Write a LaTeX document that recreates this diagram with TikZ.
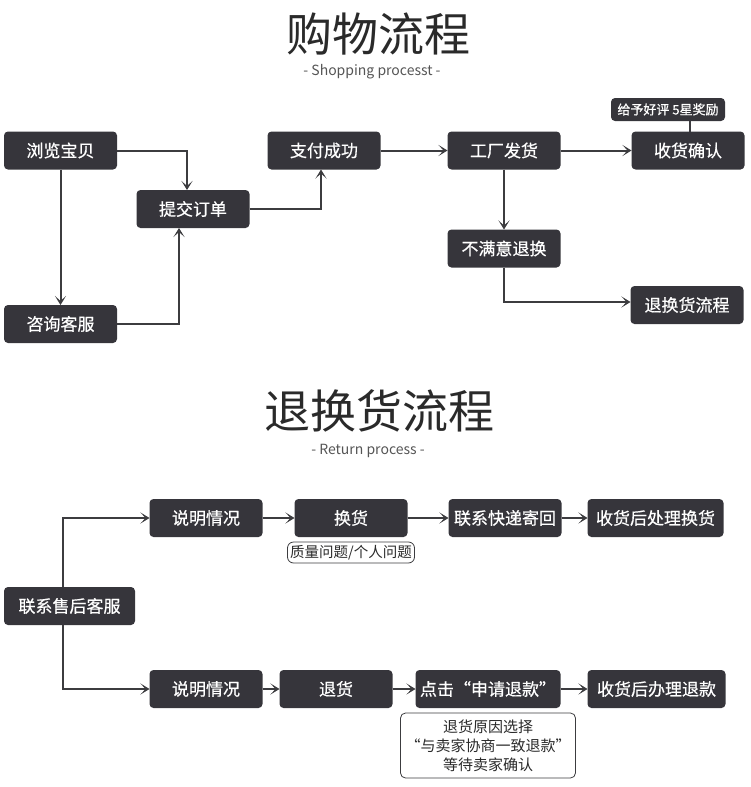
\documentclass[tikz,border=0pt]{standalone}
\usepackage{fontspec}
\setmainfont{Noto Sans CJK SC}
\newfontfamily\boxfont{Noto Sans CJK SC}[FakeBold=0.6]
\usepackage{tikz}
\usetikzlibrary{arrows.meta}
\usetikzlibrary{positioning}

\definecolor{boxdark}{HTML}{36353B}
\definecolor{linedark}{HTML}{3C3C3F}
\definecolor{titlegray}{HTML}{2A2A2A}
\definecolor{subgray}{HTML}{555555}

\begin{document}
\begin{tikzpicture}[x=1pt, y=-1pt, >={Stealth[length=9pt, width=11pt, inset=5pt]},
	line width=2pt, draw=linedark,
	main box/.style={rectangle, rounded corners=4pt, fill=boxdark, text=white, inner sep=0pt, outer sep=0pt,
		minimum width=113pt, minimum height=38pt, font=\boxfont\fontsize{17}{20}\selectfont},
	tag box/.style={rectangle, rounded corners=4pt, fill=boxdark, text=white, inner sep=0pt, outer sep=0pt,
		minimum width=114pt, minimum height=23pt, font=\boxfont\fontsize{13}{15}\selectfont},
	note box/.style={rectangle, rounded corners=5pt, draw=linedark, line width=0.8pt, fill=white, outer sep=0pt,
		text=titlegray, inner sep=0pt, align=center, font=\fontsize{15}{19}\selectfont},
	big title/.style={text=titlegray, font=\fontsize{46}{50}\selectfont},
	sub title/.style={text=subgray, font=\fontsize{14}{16}\selectfont},
	link/.style={->, draw=linedark, line width=2pt},
]
\useasboundingbox (0,0) rectangle (750,787);
% shopping process
\node [big title] at (378,34) (TitleShop) {购物流程};
\node [sub title] at (372,72) (SubShop) {- Shopping processt -};
\node [main box] at (60.5,150.5) (Browse) {浏览宝贝};
\node [main box] at (193,209)   (Order) {提交订单};
\node [main box] at (324,150.5) (Pay) {支付成功};
\node [main box] at (60.5,324)  (Consult) {咨询客服};
\node [main box]                (Ship) [right=67pt of Pay] {工厂发货};
\node [main box]                (Confirm) [right=71pt of Ship] {收货确认};
\node [tag box] at (668,109.5)  (Reward) {给予好评 5星奖励};
\node [main box]                (Unhappy) [below=60pt of Ship] {不满意退换};
\node [main box] at (687,305)   (ReturnFlow) {退换货流程};
%
\draw [link] (Browse.east) -| ([xshift=-6pt]Order.north);
\draw [link] (Browse) -- (Consult);
\draw [link] (Consult.east) -| ([xshift=-14pt]Order.south);
\draw [link] (Order.east) -| ([xshift=-3pt]Pay.south);
\draw [link] (Pay) -- (Ship);
\draw [link] (Ship) -- (Confirm);
\draw [-] ([xshift=22pt]Reward.south) -- ([xshift=22pt]Reward.south |- Confirm.north);
\draw [link] (Ship) -- (Unhappy);
\draw [link] (Unhappy.south) |- ([yshift=3pt]ReturnFlow.west);
% return process
\node [big title] at (379,411) (TitleReturn) {退换货流程};
\node [sub title] at (368,451) (SubReturn) {- Return process -};
\node [main box, minimum width=131pt] at (69.5,606) (Service) {联系售后客服};
\node [main box] at (206,518)   (ExplainA) {说明情况};
\node [main box]                (Exchange) [right=32pt of ExplainA] {换货};
\node [main box]                (Express) [right=41pt of Exchange] {联系快递寄回};
\node [main box, minimum width=136pt] (DoneExchange) [right=26pt of Express] {收货后处理换货};
\node [note box, minimum width=127pt, minimum height=21pt, rounded corners=6pt,
	font=\fontsize{14.5}{17}\selectfont] (Reason) [below=5pt of Exchange] {质量问题/个人问题};
\node [main box] at (206,689)   (ExplainB) {说明情况};
\node [main box]                (Refund) [right=17pt of ExplainB] {退货};
\node [main box, minimum width=145pt] (Apply) [right=23pt of Refund] {点击“申请退款”};
\node [main box, minimum width=138pt] (DoneRefund) [right=27pt of Apply] {收货后办理退款};
\node [note box, minimum width=175pt, minimum height=65pt] (Agree) [below=5pt of Apply] {退货原因选择\\“与卖家协商一致退款”\\等待卖家确认};
%
\draw [link] ([xshift=-6.5pt]Service.north) |- (ExplainA.west);
\draw [link] ([xshift=-6.5pt]Service.south) |- (ExplainB.west);
\draw [link] (ExplainA) -- (Exchange);
\draw [link] (Exchange) -- (Express);
\draw [link] (Express) -- (DoneExchange);
\draw [link] (ExplainB) -- (Refund);
\draw [link] (Refund) -- (Apply);
\draw [link] (Apply) -- (DoneRefund);
\end{tikzpicture}
\end{document}
